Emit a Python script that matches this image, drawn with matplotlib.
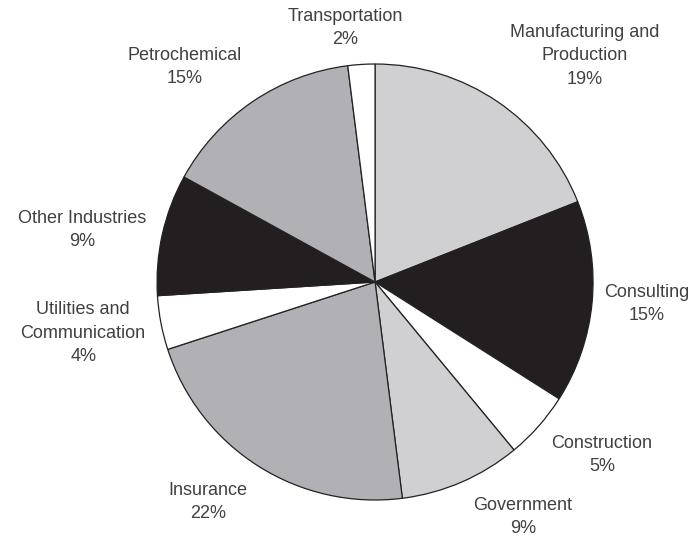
import matplotlib.pyplot as plt

# industry share, clockwise from 12 o'clock
sectors = ['Manufacturing and\nProduction', 'Consulting', 'Construction', 'Government',
           'Insurance', 'Utilities and\nCommunication', 'Other Industries',
           'Petrochemical', 'Transportation']
shares = [19, 15, 5, 9, 22, 4, 9, 15, 2]

fills = ['#d0d0d2', '#231f20', '#ffffff', '#d0d0d2', '#b1b1b5',
         '#ffffff', '#231f20', '#b1b1b5', '#ffffff']
# label centres in pie units (radius = 1)
label_pos = [(0.963, 1.037), (1.248, -0.101), (1.041, -0.794), (0.679, -1.078),
             (-0.766, -1.009), (-1.339, -0.234), (-1.344, 0.239),
             (-0.872, 0.986), (-0.138, 1.165)]

plt.rcParams['font.family'] = ['Liberation Sans', 'DejaVu Sans']

fig = plt.figure(figsize=(6.93, 5.37), dpi=100)
ax = fig.add_axes([0.2266, 0.0689, 0.6292, 0.8119])

ax.pie(shares, colors=fills, startangle=90, counterclock=False, radius=1,
       wedgeprops={'edgecolor': '#222222', 'linewidth': 0.9})

for name, val, (x, y) in zip(sectors, shares, label_pos):
    ax.text(x, y, '%s\n%d%%' % (name, val), ha='center', va='center',
            fontsize=13, color='#404040', linespacing=1.5)

ax.set_xlim(-1, 1)
ax.set_ylim(-1, 1)
ax.set_aspect('equal')
ax.axis('off')

fig.savefig('out.png', dpi=100)
plt.close(fig)
